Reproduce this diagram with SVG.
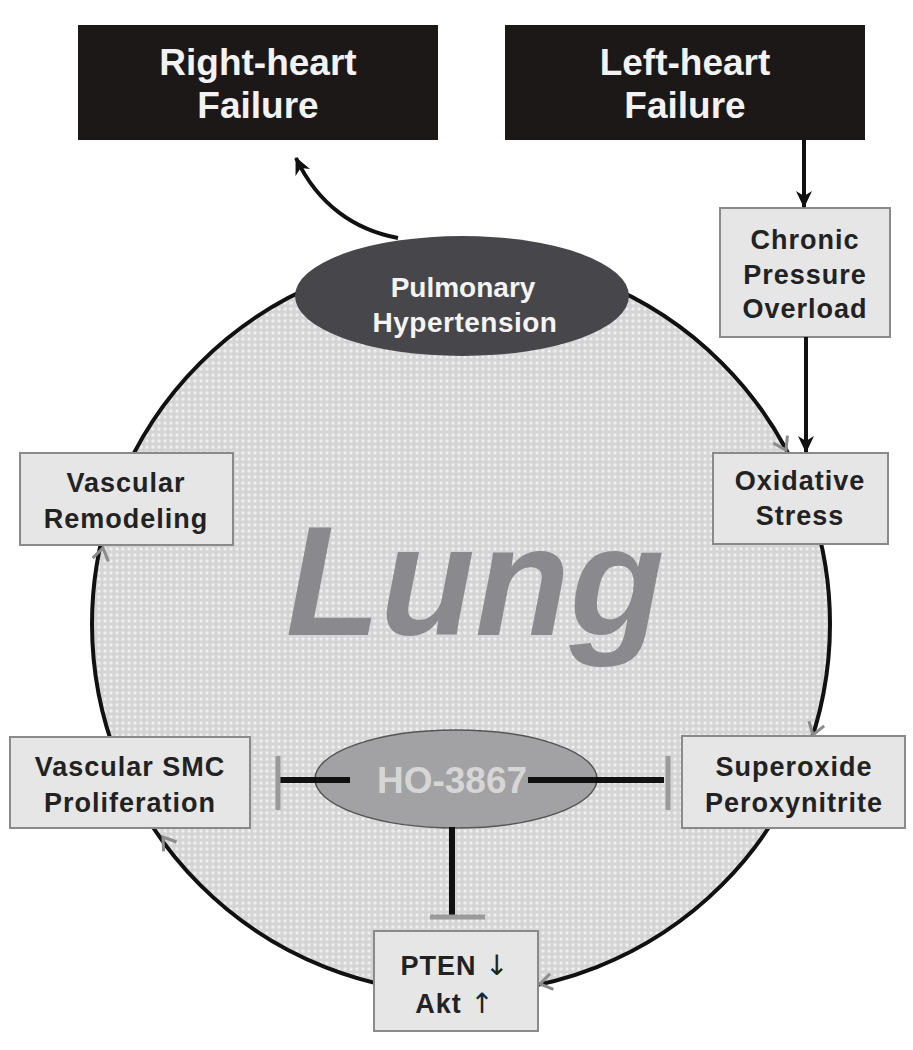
<svg xmlns="http://www.w3.org/2000/svg" width="913" height="1050" viewBox="0 0 913 1050">
<defs>
<style>
.box{fill:#e6e6e6;stroke:#8a8a8a;stroke-width:2}
.dark{fill:#1c1818}
.t{font-family:"Liberation Sans",Arial,sans-serif;font-weight:bold;font-size:27px;fill:#222;text-anchor:middle;letter-spacing:1px}
.ar{font-family:"DejaVu Sans",sans-serif;font-weight:normal;font-size:28px;fill:#222}
.tw{font-family:"Liberation Sans",Arial,sans-serif;font-weight:bold;font-size:37px;fill:#f2f2f2;text-anchor:middle}
.conn{fill:none;stroke:#111;stroke-width:4}
.inh{fill:none;stroke:#111;stroke-width:6}
.bar{fill:none;stroke:#9a9a9a;stroke-width:5}
.chev{fill:none;stroke:#8c8c8c;stroke-width:3}
</style>
<pattern id="tex" width="6" height="6" patternUnits="userSpaceOnUse">
<rect width="6" height="6" fill="#d4d4d4"/>
<circle cx="3" cy="3" r="1.8" fill="#eeeeee"/>
</pattern>
<marker id="ah" markerUnits="userSpaceOnUse" markerWidth="18" markerHeight="18" refX="16" refY="9" orient="auto">
<path d="M0,1 L17,9 L0,17 L5,9 z" fill="#111"/>
</marker>
<path id="cv" d="M-12,-8 L0,0 L-12,8"/>
</defs>

<g id="lung">
<circle cx="461" cy="624" r="369" fill="url(#tex)" stroke="#111" stroke-width="4"/>
<text x="475" y="635" font-family="Liberation Sans,Arial,sans-serif" font-weight="bold" font-style="italic" font-size="155" fill="#8a8a8e" text-anchor="middle">Lung</text>
</g>

<g id="cycle-arrowheads" class="chev">
<use href="#cv" transform="translate(786,450) rotate(62)"/>
<use href="#cv" transform="translate(813,735) rotate(107)"/>
<use href="#cv" transform="translate(540,984) rotate(168)"/>
<use href="#cv" transform="translate(163,837) rotate(234)"/>
<use href="#cv" transform="translate(103,548) rotate(-78)"/>
</g>

<g id="right-heart">
<rect class="dark" x="78" y="25" width="360" height="115"/>
<text class="tw" x="258" y="75">Right-heart</text>
<text class="tw" x="258" y="118">Failure</text>
</g>

<g id="left-heart">
<rect class="dark" x="505" y="25" width="360" height="115"/>
<text class="tw" x="685" y="75">Left-heart</text>
<text class="tw" x="685" y="118">Failure</text>
</g>

<g id="pulmonary-hypertension">
<ellipse cx="462" cy="296" rx="167" ry="60" fill="#47474b"/>
<text x="463" y="297" font-family="Liberation Sans,Arial,sans-serif" font-weight="bold" font-size="28" fill="#f4f4f4" text-anchor="middle">Pulmonary</text>
<text x="465" y="332" font-family="Liberation Sans,Arial,sans-serif" font-weight="bold" font-size="28" fill="#f4f4f4" text-anchor="middle" letter-spacing="0.5">Hypertension</text>
</g>

<g id="chronic-pressure">
<rect class="box" x="720" y="208" width="170" height="129"/>
<text class="t" x="805" y="249">Chronic</text>
<text class="t" x="805" y="284">Pressure</text>
<text class="t" x="805" y="318">Overload</text>
</g>

<g id="oxidative-stress">
<rect class="box" x="713" y="453" width="175" height="91"/>
<text class="t" x="800" y="490">Oxidative</text>
<text class="t" x="800" y="525">Stress</text>
</g>

<g id="vascular-remodeling">
<rect class="box" x="20" y="453" width="213" height="92"/>
<text class="t" x="126" y="492">Vascular</text>
<text class="t" x="126" y="528">Remodeling</text>
</g>

<g id="smc-proliferation">
<rect class="box" x="10" y="737" width="240" height="91"/>
<text class="t" x="130" y="776">Vascular SMC</text>
<text class="t" x="130" y="812">Proliferation</text>
</g>

<g id="superoxide">
<rect class="box" x="682" y="736" width="223" height="92"/>
<text class="t" x="794" y="776">Superoxide</text>
<text class="t" x="794" y="812">Peroxynitrite</text>
</g>

<g id="ho-3867">
<ellipse cx="456" cy="779" rx="141" ry="49" fill="#a2a2a4" stroke="#555" stroke-width="1.5"/>
<text x="452" y="793" font-family="Liberation Sans,Arial,sans-serif" font-weight="bold" font-size="37" fill="#d6d6d6" text-anchor="middle">HO-3867</text>
</g>

<g id="pten-akt">
<rect class="box" x="374" y="931" width="164" height="100"/>
<text class="t" x="455" y="975">PTEN <tspan class="ar">↓</tspan></text>
<text class="t" x="455" y="1013">Akt <tspan class="ar">↑</tspan></text>
</g>

<g id="connectors">
<path class="conn" d="M398,238 C355,230 318,205 296,158" marker-end="url(#ah)"/>
<line class="conn" x1="804" y1="140" x2="804" y2="207" marker-end="url(#ah)"/>
<line class="conn" x1="806" y1="337" x2="806" y2="452" marker-end="url(#ah)"/>
<line class="inh" x1="350" y1="780" x2="276" y2="780"/>
<line class="bar" x1="278" y1="756" x2="278" y2="810"/>
<line class="inh" x1="528" y1="780" x2="664" y2="780"/>
<line class="bar" x1="668" y1="756" x2="668" y2="810"/>
<line class="inh" x1="452" y1="827" x2="452" y2="916"/>
<line class="bar" x1="430" y1="917" x2="485" y2="917"/>
</g>
</svg>
